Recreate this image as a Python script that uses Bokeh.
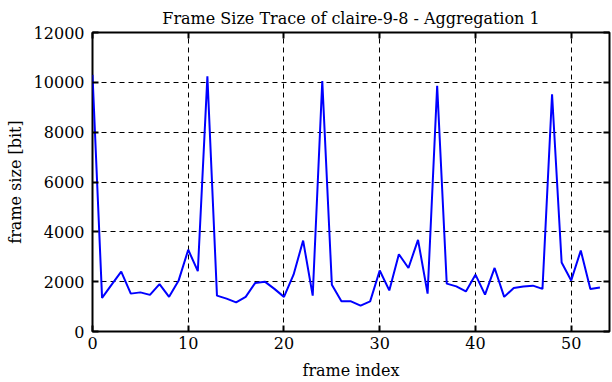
from bokeh.plotting import figure
from bokeh.models import FixedTicker, LinearAxis, Range1d, CustomLabelingPolicy
from bokeh.embed import file_html
from bokeh.resources import INLINE

frame_index = list(range(54))
frame_size = [10300, 1350, 1880, 2400, 1520, 1570, 1470, 1900, 1390, 2050,
              3280, 2420, 10240, 1440, 1320, 1170, 1390, 1950, 2000, 1710,
              1390, 2280, 3650, 1440, 10050, 1880, 1210, 1210, 1040, 1210,
              2450, 1650, 3100, 2550, 3680, 1520, 9860, 1920, 1810, 1610,
              2280, 1480, 2550, 1390, 1750, 1810, 1840, 1710, 9520, 2770,
              2050, 3250, 1710, 1770]
x_ticks = [0, 10, 20, 30, 40, 50]
y_ticks = [0, 2000, 4000, 6000, 8000, 10000, 12000]

FONT = "DejaVu Serif"

p = figure(width=612, height=382, output_backend="svg", toolbar_location=None,
           x_range=Range1d(0, 54), y_range=Range1d(0, 12000),
           min_border_left=92, min_border_right=3, min_border_top=32,
           min_border_bottom=50,
           title="Frame Size Trace of claire-9-8 - Aggregation 1")

p.title.text_font = FONT
p.title.text_font_size = "16px"
p.title.text_font_style = "normal"
p.title.text_color = "black"
p.title.align = "center"
p.title.standoff = 10

p.outline_line_color = "black"
p.outline_line_width = 2
p.background_fill_color = "white"
p.border_fill_color = "white"

p.line(frame_index, frame_size, line_color="#0000ff", line_width=2)

for ax in (p.xaxis[0], p.yaxis[0]):
    ax.axis_line_color = None
    ax.major_tick_in = 6
    ax.major_tick_out = 0
    ax.major_tick_line_width = 2
    ax.minor_tick_line_color = None
    ax.major_label_text_font = FONT
    ax.major_label_text_font_size = "16px"
    ax.major_label_text_color = "black"
    ax.axis_label_text_font = FONT
    ax.axis_label_text_font_size = "16px"
    ax.axis_label_text_font_style = "normal"
    ax.axis_label_text_color = "black"

p.xaxis[0].ticker = FixedTicker(ticks=x_ticks)
p.yaxis[0].ticker = FixedTicker(ticks=y_ticks)
p.xaxis[0].axis_label = "frame index"
p.yaxis[0].axis_label = "frame size [bit]"
p.xaxis[0].major_label_standoff = 5
p.xaxis[0].axis_label_standoff = 9
p.yaxis[0].major_label_standoff = 8
p.yaxis[0].axis_label_standoff = 6

no_labels = CustomLabelingPolicy(code="for (const i of Array.from(indices)) indices.unset(i); return indices")
top = LinearAxis(ticker=FixedTicker(ticks=x_ticks), major_label_policy=no_labels)
right = LinearAxis(ticker=FixedTicker(ticks=y_ticks), major_label_policy=no_labels)
for ax in (top, right):
    ax.axis_line_color = None
    ax.major_tick_in = 6
    ax.major_tick_out = 0
    ax.major_tick_line_width = 2
    ax.minor_tick_line_color = None
    ax.major_label_text_font_size = "0px"
    ax.major_label_standoff = 0
    ax.axis_label_standoff = 0
p.add_layout(top, "above")
p.add_layout(right, "right")

for g in (p.xgrid[0], p.ygrid[0]):
    g.grid_line_color = "black"
    g.grid_line_dash = "5 4"
    g.grid_line_width = 1
p.xgrid[0].ticker = FixedTicker(ticks=x_ticks)
p.ygrid[0].ticker = FixedTicker(ticks=y_ticks)

open("out.html", "w").write(file_html(p, INLINE))
